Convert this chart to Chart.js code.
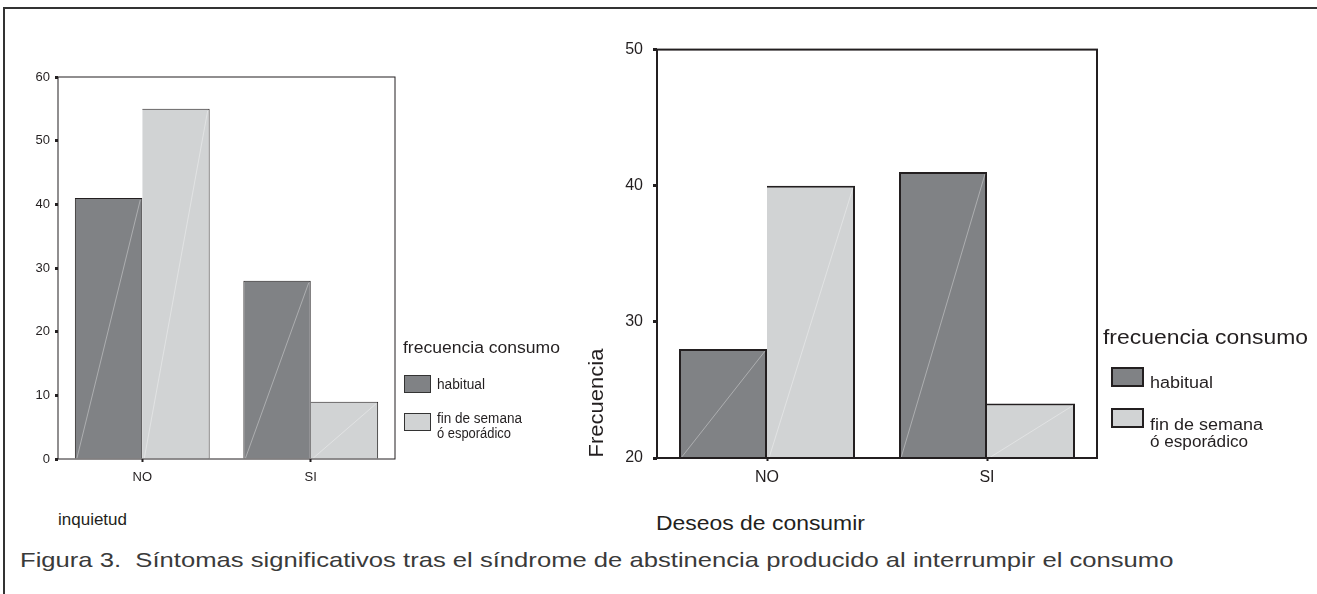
<!DOCTYPE html>
<html>
<head>
<meta charset="utf-8">
<script src="https://cdn.jsdelivr.net/npm/chart.js@4/dist/chart.umd.min.js"></script>
<style>
  body { margin: 0; background: #fff; font-family: "Liberation Sans", Arial, Helvetica, sans-serif; color: #231f20; }
  #page { position: relative; width: 1317px; height: 594px; overflow: hidden; }
  #frame { position: absolute; left: 3px; top: 7px; width: 1320px; height: 600px; border-top: 2px solid #333; border-left: 2px solid #333; }
  canvas { position: absolute; }
  .txt { position: absolute; white-space: nowrap; transform-origin: left center; }
  .sw { position: absolute; box-sizing: border-box; overflow: hidden; }
</style>
</head>
<body>
<div id="page">
  <div id="frame"></div>
  <canvas id="chartInquietud" width="400" height="430" style="left:0px;top:60px"></canvas>
  <canvas id="chartDeseos" width="545" height="470" style="left:560px;top:30px"></canvas>

  <!-- left legend -->
  <div class="txt" data-w="157" style="left:403px;top:338px;font-size:16px;line-height:20px">frecuencia consumo</div>
  <div class="sw" style="left:404px;top:375px;width:27px;height:18px;border:1px solid #333;background:#808285"></div>
  <div class="txt" data-w="48" style="left:437px;top:376px;font-size:14px;line-height:16px">habitual</div>
  <div class="sw" style="left:404px;top:413px;width:27px;height:18px;border:1px solid #333;background:#d1d3d4"></div>
  <div class="txt" data-w="85" style="left:437px;top:411px;font-size:14px;line-height:15px">fin de semana</div>
  <div class="txt" data-w="74" style="left:437px;top:426px;font-size:14px;line-height:15px">ó esporádico</div>
  <div class="txt" data-w="69" style="left:58px;top:510px;font-size:16px;line-height:20px">inquietud</div>

  <!-- right legend -->
  <div class="txt" data-w="205" style="left:1103px;top:325px;font-size:20px;line-height:24px">frecuencia consumo</div>
  <div class="sw" style="left:1111px;top:367px;width:33px;height:20px;border:2px solid #231f20;background:#808285"></div>
  <div class="txt" data-w="63" style="left:1150px;top:373px;font-size:16px;line-height:19px">habitual</div>
  <div class="sw" style="left:1111px;top:408px;width:33px;height:20px;border:2px solid #231f20;background:#d1d3d4"></div>
  <div class="txt" data-w="113" style="left:1150px;top:416px;font-size:16px;line-height:17px">fin de semana</div>
  <div class="txt" data-w="98" style="left:1150px;top:433px;font-size:16px;line-height:17px">ó esporádico</div>
  <div class="txt" data-w="209" style="left:656px;top:511px;font-size:20px;line-height:24px">Deseos de consumir</div>
  <div id="frec" style="position:absolute;left:596px;top:403px;font-size:20px;line-height:20px;white-space:nowrap;transform:translate(-50%,-50%) rotate(-90deg) scaleX(1.1)">Frecuencia</div>

  <div class="txt" data-w="1153" style="left:20px;top:547px;font-size:21px;line-height:26px;color:#3a3a3a">Figura 3.&nbsp; Síntomas significativos tras el síndrome de abstinencia producido al interrumpir el consumo</div>
</div>

<script>
// values
const categories = ['NO', 'SI'];
const seriesNames = ['habitual', 'fin de semana ó esporádico'];
const inquietudHabitual = [41, 28];
const inquietudFinSemana = [55, 9];
const deseosHabitual = [28, 41];
const deseosFinSemana = [40, 24];

const darkGray = '#808285';
const lightGray = '#d1d3d4';

// fit html labels to the widths measured on the reference
document.querySelectorAll('.txt[data-w]').forEach(function(el) {
    var w = el.getBoundingClientRect().width;
    var target = +el.dataset.w;
    el.style.transform = 'scaleX(' + (target / w).toFixed(3) + ')';
});

// closed box around the plot area
const boxPlugin = {
    id: 'box',
    afterDraw(chart, args, opts) {
        const a = chart.chartArea;
        const ctx = chart.ctx;
        ctx.save();
        ctx.strokeStyle = opts.color || '#333';
        ctx.lineWidth = opts.width || 1;
        ctx.strokeRect(a.left, a.top, a.right - a.left, a.bottom - a.top);
        ctx.restore();
    }
};

// faint diagonal stroke inside every bar, like the SPSS fill
const diagonalPlugin = {
    id: 'diagonal',
    afterDatasetsDraw(chart) {
        const ctx = chart.ctx;
        const bottom = chart.chartArea.bottom;
        ctx.save();
        ctx.strokeStyle = 'rgba(255,255,255,0.35)';
        ctx.lineWidth = 1;
        chart.data.datasets.forEach(function(ds, i) {
            chart.getDatasetMeta(i).data.forEach(function(bar) {
                const p = bar.getProps(['x', 'y', 'base', 'width'], true);
                const b = Math.min(p.base, bottom);
                ctx.beginPath();
                ctx.moveTo(p.x - p.width / 2 + 2, b);
                ctx.lineTo(p.x + p.width / 2 - 2, p.y + 2);
                ctx.stroke();
            });
        });
        ctx.restore();
    }
};

function makeChart(id, habitual, finSemana, cfg) {
    const ctx = document.getElementById(id).getContext('2d');
    const w = cfg.barBorder;
    return new Chart(ctx, {
        type: 'bar',
        data: {
            labels: categories,
            datasets: [{
                label: seriesNames[0],
                data: habitual,
                backgroundColor: darkGray,
                borderColor: '#231f20',
                borderWidth: { top: w, left: w, right: w, bottom: 0 },
                barPercentage: 1,
                categoryPercentage: 0.8
            }, {
                label: seriesNames[1],
                data: finSemana,
                backgroundColor: lightGray,
                borderColor: '#231f20',
                borderWidth: { top: w, left: 0, right: w, bottom: 0 },
                barPercentage: 1,
                categoryPercentage: 0.8
            }]
        },
        options: {
            responsive: false,
            animation: false,
            layout: { padding: { top: cfg.padTop, right: cfg.padRight, left: 0, bottom: 0 } },
            plugins: {
                legend: { display: false },
                tooltip: { enabled: false },
                box: { color: '#231f20', width: cfg.boxWidth }
            },
            scales: {
                x: {
                    grid: {
                        offset: false,
                        drawOnChartArea: false,
                        tickLength: 3,
                        tickWidth: 2,
                        tickColor: '#231f20'
                    },
                    border: { display: false },
                    ticks: {
                        color: '#231f20',
                        padding: cfg.xPad,
                        font: { family: 'Liberation Sans, Arial', size: cfg.tickFont }
                    },
                    afterFit: function(scale) { scale.height = cfg.xHeight; }
                },
                y: {
                    min: cfg.min,
                    max: cfg.max,
                    grid: {
                        drawOnChartArea: false,
                        tickLength: cfg.tickLen,
                        tickWidth: 3,
                        tickColor: '#231f20'
                    },
                    border: { display: false },
                    ticks: {
                        stepSize: 10,
                        color: '#231f20',
                        padding: cfg.yPad,
                        font: { family: 'Liberation Sans, Arial', size: cfg.tickFont }
                    },
                    afterFit: function(scale) { scale.width = cfg.yWidth; }
                }
            }
        },
        plugins: [boxPlugin, diagonalPlugin]
    });
}

makeChart('chartInquietud', inquietudHabitual, inquietudFinSemana, {
    min: 0, max: 60, barBorder: 1, boxWidth: 1,
    padTop: 17, padRight: 5, yWidth: 58, xHeight: 31,
    tickFont: 13, tickLen: 3, yPad: 5, xPad: 8
});

makeChart('chartDeseos', deseosHabitual, deseosFinSemana, {
    min: 20, max: 50, barBorder: 2, boxWidth: 2,
    padTop: 17, padRight: 8, yWidth: 97, xHeight: 42,
    tickFont: 16, tickLen: 4, yPad: 10, xPad: 7
});
</script>
</body>
</html>
